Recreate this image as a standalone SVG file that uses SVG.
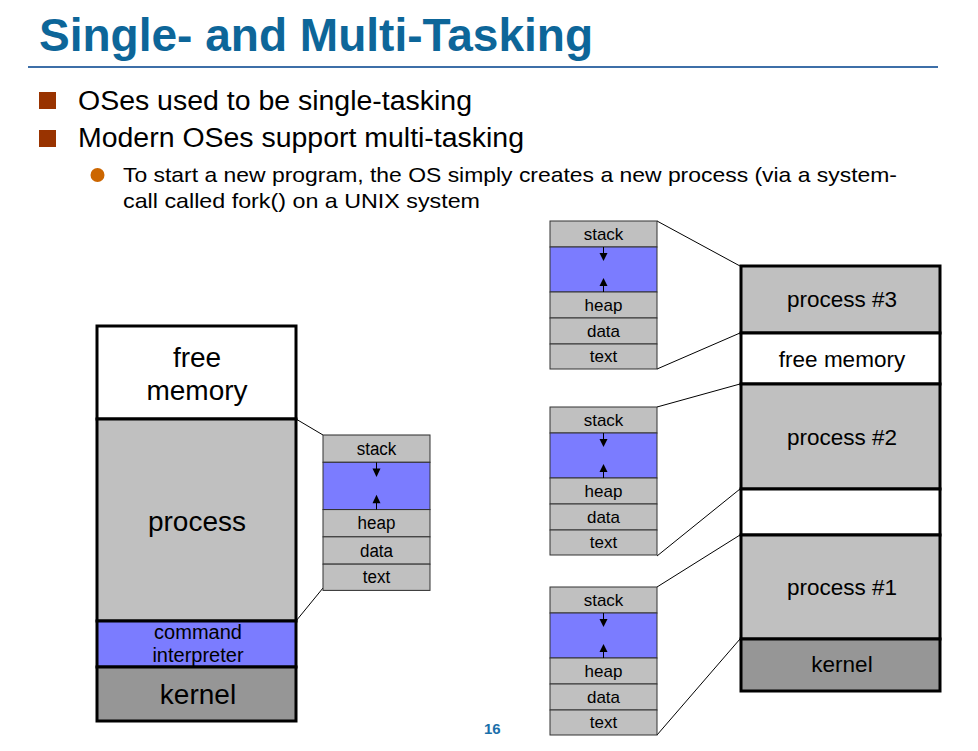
<svg xmlns="http://www.w3.org/2000/svg" width="978" height="751" viewBox="0 0 978 751">
  <defs>
    <style>
      text { font-family: "Liberation Sans", Arial, sans-serif; fill: #000; }
      .title { font-size: 46px; font-weight: bold; fill: #0d6699; }
      .b1 { font-size: 27px; }
      .b2 { font-size: 21px; }
      .big { font-size: 28px; text-anchor: middle; }
      .mid { font-size: 22.5px; text-anchor: middle; }
      .small { font-size: 17px; text-anchor: middle; }
      .cmd { font-size: 20px; text-anchor: middle; }
      .pg { font-size: 15px; font-weight: bold; fill: #1a6faa; }
      .mem { stroke: #000; stroke-width: 3; }
      .seg { stroke: #333; stroke-width: 1; }
      .gray { fill: #c0c0c0; }
      .dark { fill: #969696; }
      .blue { fill: #7b7cff; }
      .white { fill: #fff; }
      .conn line { stroke: #000; stroke-width: 1; }
    </style>
    <!-- one address-space segment list: stack, gap, heap, data, text -->
    <g id="seglist">
      <rect class="seg gray" x="0" y="0" width="107" height="26"/>
      <rect class="seg blue" x="0" y="26" width="107" height="45"/>
      <rect class="seg gray" x="0" y="71" width="107" height="26"/>
      <rect class="seg gray" x="0" y="97" width="107" height="26"/>
      <rect class="seg gray" x="0" y="123" width="107" height="25"/>
      <line x1="53.5" y1="26" x2="53.5" y2="33" stroke="#000" stroke-width="1"/>
      <polygon points="49.5,32 57.5,32 53.5,40" fill="#000"/>
      <line x1="53.5" y1="71" x2="53.5" y2="64" stroke="#000" stroke-width="1"/>
      <polygon points="49.5,65 57.5,65 53.5,57" fill="#000"/>
      <text class="small" x="53.5" y="19">stack</text>
      <text class="small" x="53.5" y="90">heap</text>
      <text class="small" x="53.5" y="116">data</text>
      <text class="small" x="53.5" y="141">text</text>
    </g>
  </defs>

  <rect width="978" height="751" fill="#fff"/>

  <!-- heading -->
  <g id="heading">
    <text class="title" x="39" y="51" textLength="554" lengthAdjust="spacingAndGlyphs">Single- and Multi-Tasking</text>
    <line x1="28" y1="67" x2="938" y2="67" stroke="#3d6fa8" stroke-width="2"/>
  </g>

  <!-- bullet list -->
  <g id="bullets">
    <rect x="39" y="92" width="17" height="17" fill="#993300"/>
    <text class="b1" x="78" y="110" textLength="394" lengthAdjust="spacingAndGlyphs">OSes used to be single-tasking</text>
    <rect x="39" y="130" width="17" height="17" fill="#993300"/>
    <text class="b1" x="78" y="147" textLength="446" lengthAdjust="spacingAndGlyphs">Modern OSes support multi-tasking</text>
    <circle cx="97.5" cy="175" r="7" fill="#cc6600"/>
    <text class="b2" x="123" y="182" textLength="774" lengthAdjust="spacingAndGlyphs">To start a new program, the OS simply creates a new process (via a system-</text>
    <text class="b2" x="123" y="208" textLength="357" lengthAdjust="spacingAndGlyphs">call called fork() on a UNIX system</text>
  </g>

  <!-- connectors between memory regions and segment lists -->
  <g id="connectors" class="conn">
    <line x1="296" y1="419" x2="323" y2="435"/>
    <line x1="296" y1="621" x2="323" y2="588"/>
    <line x1="657" y1="221" x2="740" y2="266"/>
    <line x1="657" y1="369" x2="740" y2="333"/>
    <line x1="657" y1="407" x2="740" y2="384"/>
    <line x1="657" y1="556" x2="740" y2="489"/>
    <line x1="657" y1="587" x2="740" y2="535"/>
    <line x1="657" y1="735" x2="740" y2="639"/>
  </g>

  <!-- single-tasking memory layout -->
  <g id="single-memory">
    <rect class="mem white" x="97" y="326" width="199" height="93"/>
    <rect class="mem gray" x="97" y="419" width="199" height="202"/>
    <rect class="mem blue" x="97" y="621" width="199" height="46"/>
    <rect class="mem dark" x="97" y="667" width="199" height="54"/>
    <text class="big" x="197" y="367">free</text>
    <text class="big" x="197" y="400">memory</text>
    <text class="big" x="197" y="531">process</text>
    <text class="cmd" x="198" y="639">command</text>
    <text class="cmd" x="198" y="662">interpreter</text>
    <text class="big" x="198" y="704">kernel</text>
  </g>

  <g id="single-process">
    <use href="#seglist" x="323" y="435" transform="translate(323 435) scale(1 1.05) translate(-323 -435)"/>
  </g>

  <!-- multi-tasking memory layout -->
  <g id="multi-memory">
    <rect class="mem gray" x="741" y="266" width="199" height="67"/>
    <rect class="mem white" x="741" y="333" width="199" height="51"/>
    <rect class="mem gray" x="741" y="384" width="199" height="105"/>
    <rect class="mem white" x="741" y="489" width="199" height="46"/>
    <rect class="mem gray" x="741" y="535" width="199" height="104"/>
    <rect class="mem dark" x="741" y="639" width="199" height="52"/>
    <text class="mid" x="842" y="307">process #3</text>
    <text class="mid" x="842" y="367">free memory</text>
    <text class="mid" x="842" y="445">process #2</text>
    <text class="mid" x="842" y="595">process #1</text>
    <text class="mid" x="842" y="672">kernel</text>
  </g>

  <g id="process-3"><use href="#seglist" x="550" y="221"/></g>
  <g id="process-2"><use href="#seglist" x="550" y="407"/></g>
  <g id="process-1"><use href="#seglist" x="550" y="587"/></g>

  <text class="pg" x="484" y="734">16</text>
</svg>
